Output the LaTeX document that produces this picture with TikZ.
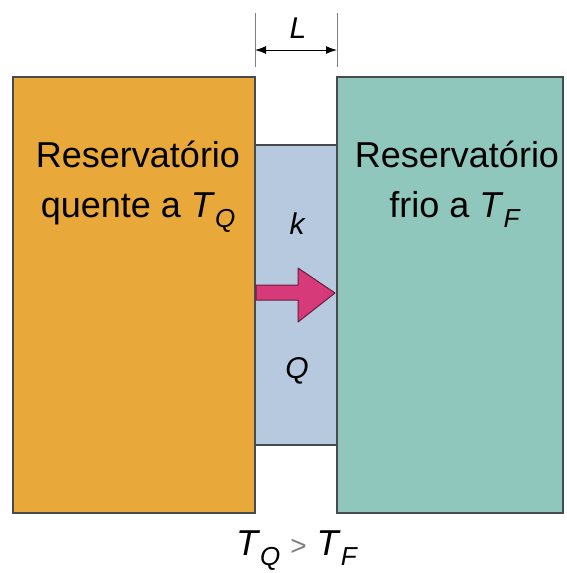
\documentclass[tikz,border=0pt]{standalone}
\usepackage{fontspec}
\setmainfont{Liberation Sans}
\usetikzlibrary{arrows.meta}

\definecolor{quente}{RGB}{232,168,58}
\definecolor{frio}{RGB}{143,199,188}
\definecolor{placa}{RGB}{182,201,222}
\definecolor{fluxo}{RGB}{214,58,120}
\definecolor{borda}{RGB}{70,75,80}

\newcommand{\temp}[1]{\textit{T}\raisebox{-0.3em}{\fontsize{26}{26}\selectfont\textit{#1}}}

\begin{document}
\begin{tikzpicture}[x=1pt,y=-1pt,
    rotulo/.style={font=\fontsize{36}{36}\selectfont, anchor=base, inner sep=0pt},
    caixa/.style={draw=borda, line width=1.3pt}]
    \useasboundingbox (0,0) rectangle (566,573);
    % reservatorios e placa
    \draw[caixa, fill=placa] (255,145) rectangle (337,445);
    \draw[caixa, fill=quente] (13,77) rectangle (255,513);
    \draw[caixa, fill=frio] (337,77) rectangle (563,513);

    % cota L
    \coordinate (L1) at (255,13); \coordinate (L2) at (337,13);
    \coordinate (A1) at (255,50); \coordinate (A2) at (337,50);
    \draw[gray, line width=0.9pt] (L1) -- (255,67); \draw[gray, line width=0.9pt] (L2) -- (337,67);
    \draw[line width=1pt, {Latex[length=11pt,width=8pt]}-{Latex[length=11pt,width=8pt]}] (A1) -- (A2);
    \node[rotulo, font=\fontsize{30}{30}\selectfont\itshape] (cotaL) at (298,38) {L};

    % fluxo de calor
    \draw[fluxo!50!black, fill=fluxo, line width=1pt, line join=round]
        (256,285) -- (298,285) -- (298,268) -- (335,293) -- (298,322) -- (298,300) -- (256,300) -- cycle;

    \node[rotulo] (resQ) at (138,167) {Reservatório};
    \node[rotulo] (txtQ) at (138,217) {quente a \temp{Q}};
    \node[rotulo] (resF) at (457,167) {Reservatório};
    \node[rotulo] (txtF) at (455,217) {frio a \temp{F}};
    \node[rotulo, font=\fontsize{30}{30}\selectfont\itshape] (cond) at (297,234) {k};
    \node[rotulo, font=\fontsize{30}{30}\selectfont\itshape] (calor) at (297,378) {Q};
    \node[rotulo] (relacao) at (297,555) {\temp{Q} {\color{gray}\fontsize{28}{28}\selectfont>} \temp{F}};
\end{tikzpicture}
\end{document}
